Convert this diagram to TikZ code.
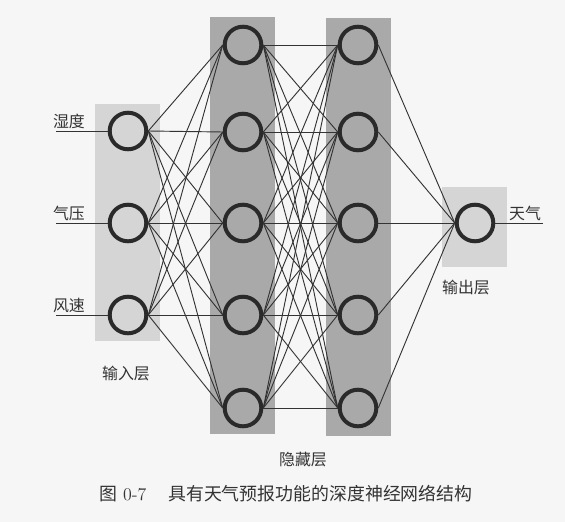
\documentclass[tikz,border=0pt]{standalone}
\usepackage{fontspec}
\newfontfamily\cjk{Noto Sans CJK SC}
\definecolor{paper}{HTML}{F6F6F6}
\definecolor{lightlayer}{HTML}{D5D5D5}
\definecolor{darklayer}{HTML}{A9A9A9}
\definecolor{ringgray}{HTML}{2A2A2A}
\definecolor{wiregray}{HTML}{333333}
\tikzset{
  neuron/.style={circle, draw=ringgray, line width=3pt, minimum size=0.97cm, inner sep=0pt},
  wire/.style={draw=wiregray, line width=0.7pt},
  lbl/.style={font=\cjk\fontsize{12}{14}\selectfont, text=black!80, inner sep=0pt},
  captionlbl/.style={font=\fontsize{13.5}{16}\selectfont, text=black!80, inner sep=0pt, anchor=west}
}
\begin{document}
\begin{tikzpicture}[x=0.0265cm, y=-0.0265cm]
  \useasboundingbox (0,0) rectangle (565,522);
  \fill[paper] (0,0) rectangle (565,522);
  % layer backgrounds
  \fill[lightlayer] (95,104) rectangle (160,341);
  \fill[darklayer] (210,17) rectangle (275,434);
  \fill[darklayer] (326,18) rectangle (391,436);
  \fill[lightlayer] (442,187) rectangle (507,267);
  % neurons
  \foreach \j/\y in {1/131, 2/223, 3/315}
    \node[neuron] (in\j) at (128,\y) {};
  \foreach \j/\y in {1/45, 2/132, 3/223, 4/315, 5/408} {
    \node[neuron] (ha\j) at (243,\y) {};
    \node[neuron] (hb\j) at (358,\y) {};
  }
  \node[neuron] (out) at (475,223) {};
  % full connections between layers
  \foreach \i in {1,...,3}
    \foreach \j in {1,...,5}
      \draw[wire] (in\i.east) -- (ha\j.west);
  \foreach \i in {1,...,5}
    \foreach \j in {1,...,5}
      \draw[wire] (ha\i.east) -- (hb\j.west);
  \foreach \i in {1,...,5}
    \draw[wire] (hb\i.east) -- (out.west);
  % inputs and output
  \foreach \j/\y/\name in {1/131/湿度, 2/223/气压, 3/315/风速} {
    \coordinate (src\j) at (56,\y);
    \draw[wire] (src\j) -- (in\j.west);
    \node[lbl] (inlbl\j) at (69,\y-10) {\name};
  }
  \coordinate (sink) at (543,223);
  \draw[wire] (out.east) -- (sink);
  \node[lbl] (outlbl) at (525,213) {天气};
  % layer names
  \node[lbl] (inlayer) at (126,373) {输入层};
  \node[lbl] (hidlayer) at (303,460) {隐藏层};
  \node[lbl] (outlayer) at (466,288) {输出层};
  \node[captionlbl] (fignum) at (99,494) {{\cjk 图} 0-7};
  \node[captionlbl] (figtitle) at (168,494) {\cjk 具有天气预报功能的深度神经网络结构};
\end{tikzpicture}
\end{document}
